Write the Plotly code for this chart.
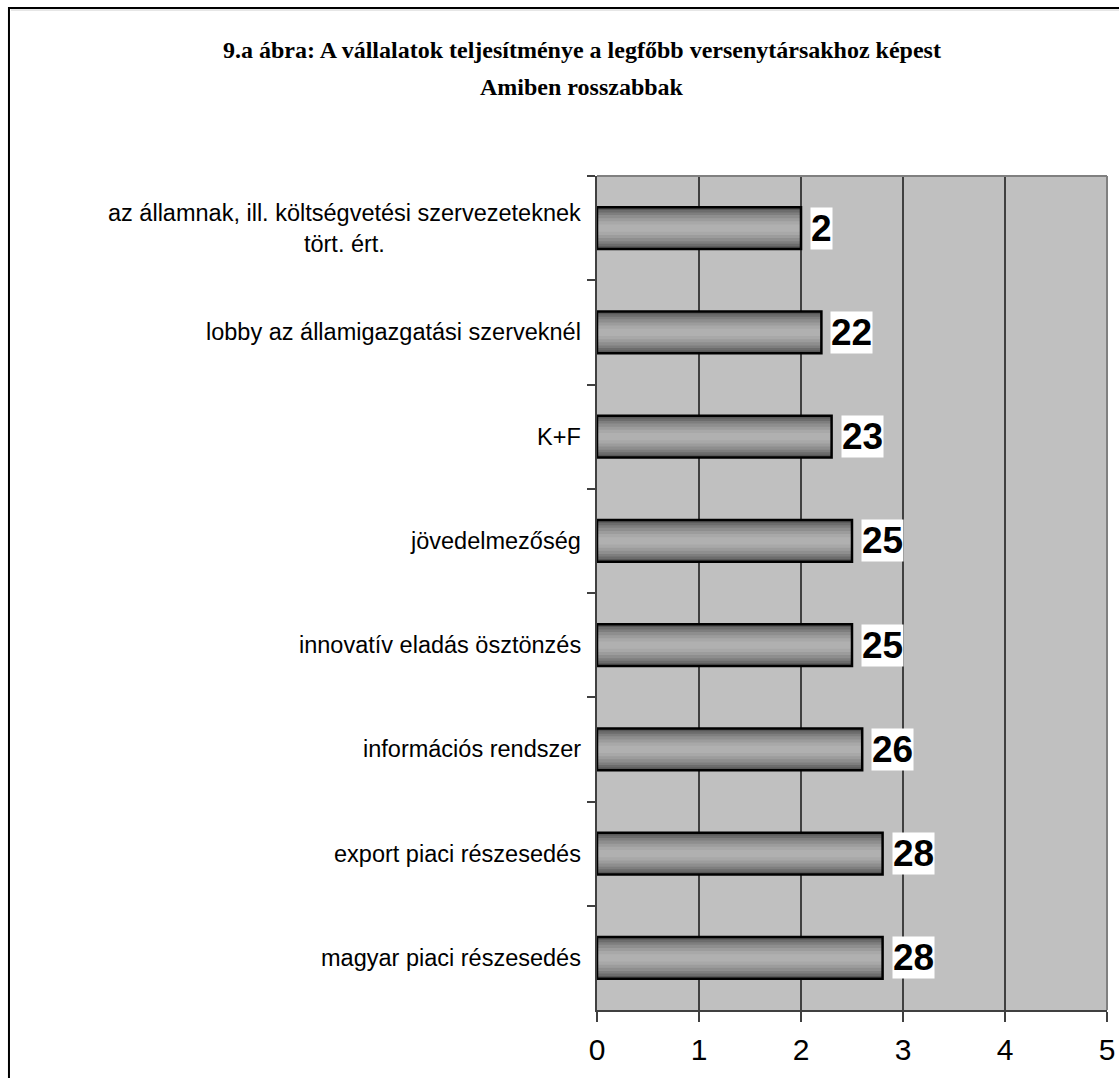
import plotly.graph_objects as go

categories = [
    "az államnak, ill. költségvetési szervezeteknek<br>tört. ért.",
    "lobby az államigazgatási szerveknél",
    "K+F",
    "jövedelmezőség",
    "innovatív eladás ösztönzés",
    "információs rendszer",
    "export piaci részesedés",
    "magyar piaci részesedés",
]
values = [2.0, 2.2, 2.3, 2.5, 2.5, 2.6, 2.8, 2.8]
value_labels = ["2", "22", "23", "25", "25", "26", "28", "28"]
x_ticks = [0, 1, 2, 3, 4, 5]
title_lines = ["9.a ábra: A vállalatok teljesítménye a legfőbb versenytársakhoz képest",
               "Amiben rosszabbak"]

fig = go.Figure()

# gradient-like bars built from overlaid layers
layers = [(0.40, "#585858"), (0.35, "#6c6c6c"), (0.30, "#7e7e7e"),
          (0.25, "#8e8e8e"), (0.19, "#9c9c9c"), (0.13, "#a8a8a8"), (0.07, "#b0b0b0")]
for w, c in layers:
    fig.add_trace(go.Bar(
        y=categories, x=values, orientation="h", width=w,
        marker=dict(color=c, line=dict(width=0)),
        hoverinfo="skip", showlegend=False,
    ))
# outline
fig.add_trace(go.Bar(
    y=categories, x=values, orientation="h", width=0.40,
    marker=dict(color="rgba(0,0,0,0)", line=dict(color="black", width=2.5)),
    showlegend=False,
))

annotations = []
for cat, v, lab in zip(categories, values, value_labels):
    annotations.append(dict(
        x=v, y=cat, xref="x", yref="y", text=lab, showarrow=False,
        xanchor="left", yanchor="middle", xshift=9,
        font=dict(family="Liberation Sans, Arial", size=37, color="black", weight="bold"),
        bgcolor="white", borderpad=0,
    ))
    annotations.append(dict(
        x=-0.027, y=cat, xref="paper", yref="y", text=cat, showarrow=False,
        xanchor="right", yanchor="middle", align="center",
        font=dict(family="Liberation Sans, Arial", size=23.5, color="black"),
    ))

for ty, line in zip([1.151, 1.1067], title_lines):
    annotations.append(dict(
        x=-0.03, y=ty, xref="paper", yref="paper", showarrow=False,
        xanchor="center", yanchor="middle", align="center",
        text="<b>" + line + "</b>",
        font=dict(family="Liberation Serif, Times New Roman", size=24, color="black"),
    ))

fig.update_layout(
    width=1119, height=1078,
    margin=dict(l=597, r=12, t=176, b=68),
    paper_bgcolor="white", plot_bgcolor="#c0c0c0",
    barmode="overlay", bargap=0.6,
    annotations=annotations,
    shapes=[
        dict(type="rect", xref="paper", yref="paper",
             x0=-1.153, x1=1.06, y0=-0.2, y1=1.2014,
             line=dict(color="black", width=2), fillcolor="rgba(0,0,0,0)", layer="below"),
        dict(type="line", xref="paper", yref="paper", x0=-1.149, x1=1.06, y0=1.1990, y1=1.1990,
             line=dict(color="#d0d0d0", width=1), layer="below"),
        dict(type="line", xref="paper", yref="paper", x0=0, x1=1, y0=1, y1=1,
             line=dict(color="#808080", width=2)),
        dict(type="line", xref="paper", yref="paper", x0=1, x1=1, y0=0, y1=1,
             line=dict(color="#808080", width=2)),
    ],
)
fig.update_xaxes(
    range=[0, 5], tickvals=x_ticks, ticktext=[str(t) for t in x_ticks],
    showgrid=True, gridcolor="#404040", gridwidth=1.5,
    showline=True, linecolor="#404040", linewidth=2,
    ticks="outside", ticklen=10, tickcolor="#404040", tickwidth=1.5,
    ticklabelstandoff=2, automargin=False,
    tickfont=dict(family="Liberation Sans, Arial", size=30, color="black"),
    zeroline=False, fixedrange=True,
)
fig.update_yaxes(
    autorange="reversed", showticklabels=False, automargin=False,
    showline=True, linecolor="#404040", linewidth=2,
    ticks="outside", tickson="boundaries", ticklen=8, tickcolor="#404040", tickwidth=1.5,
    showgrid=False, fixedrange=True,
)

fig.write_html("out.html")
